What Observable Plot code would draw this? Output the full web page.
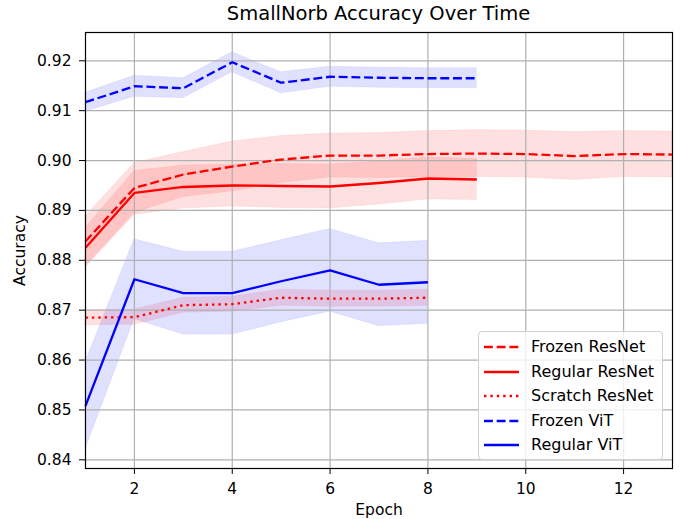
<!DOCTYPE html>
<html>
<head>
<meta charset="utf-8">
<script src="https://cdn.jsdelivr.net/npm/d3@7"></script>
<script src="https://cdn.jsdelivr.net/npm/@observablehq/plot@0.6"></script>
<style>
  html, body { margin: 0; padding: 0; background: #fff; }
  body { font-family: "DejaVu Sans", sans-serif; }
  #wrap { position: relative; width: 680px; height: 519px; }
  #title { height: 28px; line-height: 28px; margin-left: 85px; width: 587px; text-align: center; font-size: 19.5px; color: #000; white-space: nowrap; }
  #legend { position: absolute; left: 478px; top: 331px; width: 183px; height: 127px; border: 1px solid #d0d0d0; border-radius: 4px; background: rgba(255,255,255,0.8); }
  .row { position: absolute; left: 0; height: 24px; width: 183px; }
  .row svg { position: absolute; left: 4px; top: 0; }
  .row span { position: absolute; left: 52px; top: 0; line-height: 24px; font-size: 16px; color: #000; white-space: nowrap; }
</style>
</head>
<body>
<div id="wrap">
  <div id="title">SmallNorb Accuracy Over Time</div>
  <div id="chart"></div>
  <div id="legend"></div>
</div>
<script>
// ---- data ----
const frozenResNetEpochs = [1,2,3,4,5,6,7,8,9,10,11,12,13];
const frozenResNetMean = [0.8838,0.8945,0.8972,0.8988,0.9002,0.9010,0.9010,0.9013,0.9014,0.9013,0.9009,0.9013,0.9012];
const frozenResNetStd  = [0.0050,0.0050,0.0045,0.0050,0.0047,0.0044,0.0045,0.0046,0.0047,0.0047,0.0048,0.0046,0.0046];

const regularResNetEpochs = [1,2,3,4,5,6,7,8,9];
const regularResNetMean = [0.8825,0.8935,0.8947,0.8950,0.8949,0.8948,0.8955,0.8964,0.8962];
const regularResNetStd  = [0.0040,0.0044,0.0043,0.0042,0.0044,0.0044,0.0043,0.0042,0.0041];

const scratchResNetEpochs = [1,2,3,4,5,6,7,8];
const scratchResNetMean = [0.8685,0.8686,0.8710,0.8712,0.8725,0.8723,0.8723,0.8725];
const scratchResNetStd  = [0.0015,0.0015,0.0015,0.0015,0.0016,0.0016,0.0016,0.0016];

const frozenViTEpochs = [1,2,3,4,5,6,7,8,9];
const frozenViTMean = [0.9117,0.9149,0.9145,0.9197,0.9156,0.9168,0.9166,0.9165,0.9165];
const frozenViTStd  = [0.0019,0.0021,0.0020,0.0020,0.0021,0.0020,0.0020,0.0020,0.0020];

const regularViTEpochs = [1,2,3,4,5,6,7,8];
const regularViTMean = [0.8508,0.8762,0.8734,0.8734,0.8758,0.8780,0.8751,0.8756];
const regularViTStd  = [0.0087,0.0080,0.0083,0.0083,0.0082,0.0083,0.0083,0.0083];

const seriesNames  = ["Frozen ResNet","Regular ResNet","Scratch ResNet","Frozen ViT","Regular ViT"];
const seriesColors = ["#ff0000","#ff0000","#ff0000","#0000ff","#0000ff"];
const seriesStyles = ["dashed","solid","dotted","dashed","solid"];

const xTicks = [2,4,6,8,10,12];
const yTicks = [0.84,0.85,0.86,0.87,0.88,0.89,0.90,0.91,0.92];

// ---- build tables ----
const sources = [
  [frozenResNetEpochs, frozenResNetMean, frozenResNetStd],
  [regularResNetEpochs, regularResNetMean, regularResNetStd],
  [scratchResNetEpochs, scratchResNetMean, scratchResNetStd],
  [frozenViTEpochs, frozenViTMean, frozenViTStd],
  [regularViTEpochs, regularViTMean, regularViTStd]
];
const dashFor = {dashed: "8.9,3.8", solid: null, dotted: "2.4,4"};
const series = sources.map(([ep, m, s], i) => ({
  name: seriesNames[i], color: seriesColors[i], dash: dashFor[seriesStyles[i]],
  rows: ep.map((e, j) => ({epoch: e, mean: m[j], lo: m[j] - s[j], hi: m[j] + s[j]}))
}));

const marks = [];
series.forEach(s => {
  marks.push(Plot.areaY(s.rows, {x: "epoch", y1: "lo", y2: "hi", fill: s.color, fillOpacity: 0.12, stroke: s.color, strokeOpacity: 0.06, strokeWidth: 1}));
});
marks.push(Plot.gridX(xTicks, {stroke: "#b0b0b0", strokeOpacity: 1, strokeWidth: 1.2}));
marks.push(Plot.gridY(yTicks, {stroke: "#b0b0b0", strokeOpacity: 1, strokeWidth: 1.2}));
series.forEach(s => {
  marks.push(Plot.line(s.rows, {x: "epoch", y: "mean", stroke: s.color, strokeWidth: 2.3, strokeDasharray: s.dash, strokeLinecap: "butt", strokeLinejoin: "round"}));
});
marks.push(Plot.axisX(xTicks, {tickSize: 6, tickPadding: 8, fontSize: 15.5, label: "Epoch", labelAnchor: "center", labelArrow: "none", labelOffset: 46}));
marks.push(Plot.axisY(yTicks, {tickSize: 6, tickPadding: 8, fontSize: 15.5, tickFormat: d3.format(".2f"), label: "Accuracy", labelAnchor: "center", labelArrow: "none", labelOffset: 72}));
marks.push(Plot.frame({stroke: "#000", strokeWidth: 1.2}));

const chart = Plot.plot({
  width: 680, height: 491,
  marginLeft: 85, marginRight: 8, marginTop: 4, marginBottom: 51,
  style: {fontFamily: "DejaVu Sans, sans-serif", fontSize: "15.5px", color: "#000", background: "#fff", overflow: "visible"},
  x: {domain: [1, 13]},
  y: {domain: [0.83826, 0.92567]},
  marks
});
document.getElementById("chart").appendChild(chart);

// ---- legend ----
const legend = document.getElementById("legend");
series.forEach((s, i) => {
  const row = document.createElement("div");
  row.className = "row";
  row.style.top = (3 + i * 24.5) + "px";
  const dash = s.dash ? `stroke-dasharray="${s.dash}"` : "";
  row.innerHTML = `<svg width="36" height="24"><line x1="1" x2="36" y1="12" y2="12" stroke="${s.color}" stroke-width="2.3" ${dash}/></svg><span>${s.name}</span>`;
  legend.appendChild(row);
});
</script>
</body>
</html>
